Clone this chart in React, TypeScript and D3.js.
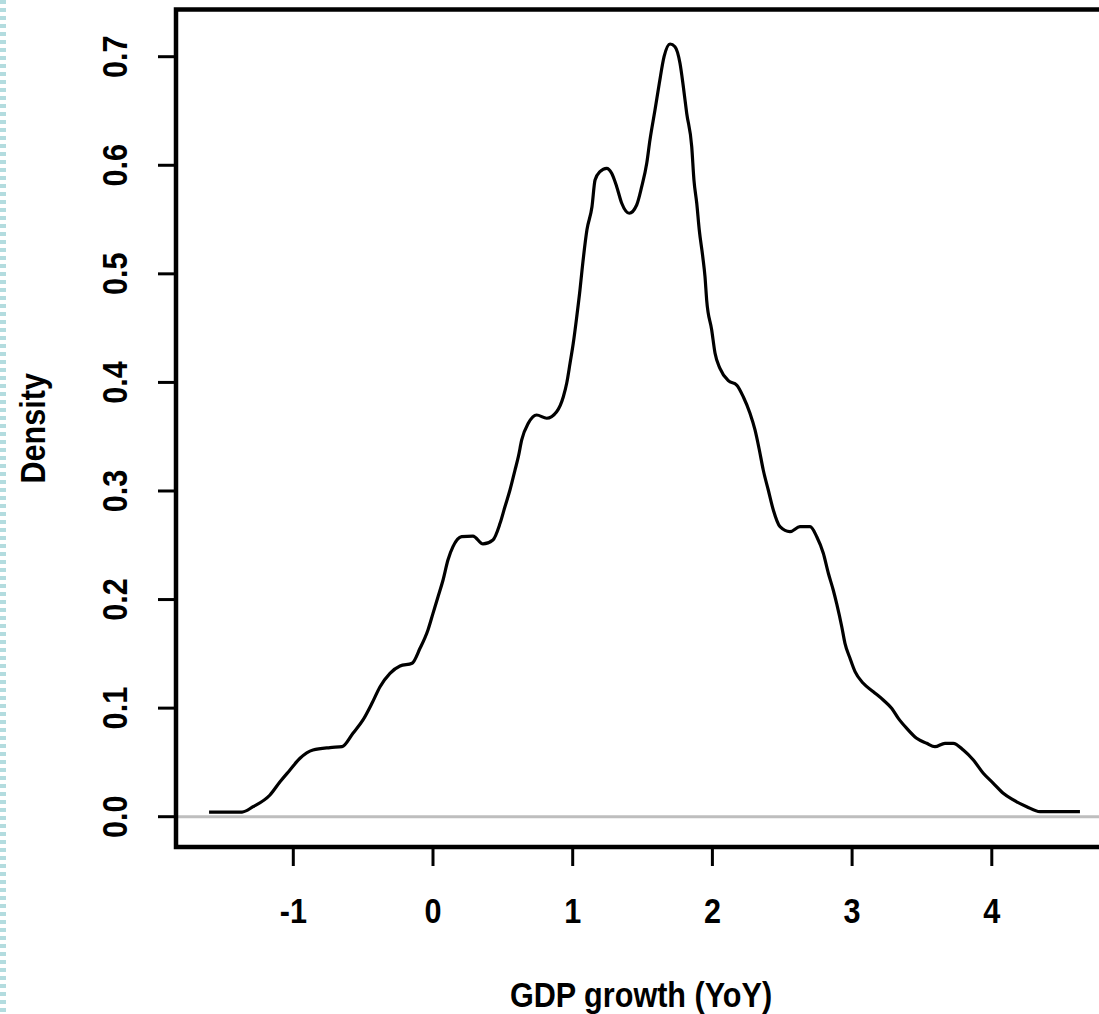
import React from "react";
import * as d3 from "d3";

// GDP growth (YoY) values along the density curve
const gdpGrowth: number[] = [
  -1.603, -1.367, -1.288, -1.167, -1.095, -1.024, -0.952, -0.859, -0.737, -0.651,
  -0.573, -0.501, -0.437, -0.379, -0.308, -0.236, -0.150, -0.093, -0.036, 0.0,
  0.036, 0.072, 0.107, 0.143, 0.205, 0.286, 0.358, 0.429, 0.480, 0.515,
  0.551, 0.587, 0.611, 0.635, 0.682, 0.742, 0.814, 0.885, 0.933, 0.957,
  0.981, 1.004, 1.029, 1.052, 1.067, 1.102, 1.138, 1.160, 1.195, 1.243,
  1.279, 1.315, 1.351, 1.405, 1.458, 1.494, 1.530, 1.553, 1.589, 1.620,
  1.654, 1.697, 1.732, 1.768, 1.792, 1.816, 1.852, 1.868, 1.888, 1.906,
  1.931, 1.947, 1.959, 1.995, 2.019, 2.054, 2.114, 2.174, 2.221, 2.269,
  2.305, 2.336, 2.364, 2.400, 2.436, 2.484, 2.555, 2.627, 2.699, 2.747,
  2.794, 2.830, 2.865, 2.890, 2.926, 2.949, 2.985, 3.021, 3.080, 3.152,
  3.223, 3.283, 3.331, 3.391, 3.462, 3.534, 3.593, 3.665, 3.724, 3.796,
  3.868, 3.939, 4.011, 4.082, 4.154, 4.250, 4.345, 4.631,
];

// Estimated kernel density at each growth value
const density: number[] = [
  0.0043, 0.0043, 0.0092, 0.020, 0.0322, 0.043, 0.0538, 0.0614, 0.0637, 0.0645,
  0.0768, 0.0891, 0.1044, 0.1197, 0.1321, 0.1388, 0.1413, 0.1551, 0.172, 0.1873,
  0.2026, 0.218, 0.2364, 0.2487, 0.2579, 0.2585, 0.2512, 0.2549, 0.2702, 0.2855,
  0.3009, 0.3193, 0.3316, 0.347, 0.3623, 0.37, 0.367, 0.373, 0.3868, 0.3992,
  0.4176, 0.436, 0.4605, 0.4851, 0.5037, 0.5405, 0.5618, 0.5864, 0.5941, 0.5972,
  0.5926, 0.5803, 0.565, 0.5558, 0.5634, 0.5803, 0.6018, 0.6233, 0.6509, 0.6755,
  0.70, 0.7117, 0.7092, 0.6939, 0.6724, 0.6479, 0.6171, 0.5864, 0.565, 0.5404,
  0.5158, 0.4974, 0.4759, 0.4483, 0.4268, 0.413, 0.4016, 0.3976, 0.3868, 0.3716,
  0.3562, 0.3378, 0.3193, 0.3009, 0.2825, 0.2671, 0.2625, 0.2671, 0.2671, 0.2579,
  0.2426, 0.2242, 0.2088, 0.196, 0.175, 0.1597, 0.1459, 0.1336, 0.1229, 0.1151,
  0.1075, 0.0999, 0.0906, 0.0814, 0.0722, 0.0676, 0.0645, 0.0676, 0.0676, 0.0614,
  0.0522, 0.040, 0.0308, 0.0216, 0.0154, 0.0092, 0.0046, 0.0046,
];

const xTicks: number[] = [-1, 0, 1, 2, 3, 4];
const yTicks: number[] = [0.0, 0.1, 0.2, 0.3, 0.4, 0.5, 0.6, 0.7];
const xTitle = "GDP growth (YoY)";
const yTitle = "Density";

const W = 1099;
const H = 1014;
const FONT = "'Liberation Sans', Arial, Helvetica, sans-serif";

export default function App() {
  const x = d3.scaleLinear().domain([0, 1]).range([433, 572.7]);
  const y = d3.scaleLinear().domain([0, 0.7]).range([816.7, 56.7]);

  const boxLeft = 176;
  const boxTop = 9.5;
  const boxBottom = 847;
  const boxRight = 1115;

  const pts = gdpGrowth.map((g, i) => [g, density[i]] as [number, number]);
  const line = d3
    .line<[number, number]>()
    .x((d) => x(d[0]))
    .y((d) => y(d[1]))
    .curve(d3.curveMonotoneX);

  const fmt = d3.format(".1f");
  const textStyle: React.CSSProperties = {
    fontFamily: FONT,
    fontWeight: 700,
    fontSize: 36,
  };

  return (
    <div style={{ position: "fixed", left: 0, top: 0, width: W, height: H, background: "#fff" }}>
      <svg width={W} height={H} viewBox={`0 0 ${W} ${H}`} style={{ display: "block" }}>
        <rect x={0} y={0} width={W} height={H} fill="#ffffff" />
        {/* left dotted border */}
        <line x1={3} y1={0} x2={3} y2={H} stroke="#b3dcdf" strokeWidth={6} strokeDasharray="4 4" />

        {/* zero line */}
        <line x1={boxLeft} x2={boxRight} y1={y(0)} y2={y(0)} stroke="#bebebe" strokeWidth={3} />

        {/* density curve */}
        <path d={line(pts) || ""} fill="none" stroke="#000" strokeWidth={3.2} strokeLinejoin="round" />

        {/* box */}
        <rect
          x={boxLeft}
          y={boxTop}
          width={boxRight - boxLeft}
          height={boxBottom - boxTop}
          fill="none"
          stroke="#000"
          strokeWidth={4.5}
        />

        {/* y ticks */}
        {yTicks.map((t) => (
          <g key={"y" + t}>
            <line x1={158} x2={boxLeft} y1={y(t)} y2={y(t)} stroke="#000" strokeWidth={3} />
            <text
              transform={`translate(127,${y(t)}) rotate(-90) scale(0.85,1)`}
              textAnchor="middle"
              style={textStyle}
              fill="#000"
            >
              {fmt(t)}
            </text>
          </g>
        ))}

        {/* x ticks */}
        {xTicks.map((t) => (
          <g key={"x" + t}>
            <line x1={x(t)} x2={x(t)} y1={boxBottom} y2={866} stroke="#000" strokeWidth={3} />
            <text
              transform={`translate(${x(t)},923) scale(0.85,1)`}
              textAnchor="middle"
              style={textStyle}
              fill="#000"
            >
              {t}
            </text>
          </g>
        ))}

        {/* axis titles */}
        <text
          transform={`translate(641,1007) scale(0.85,1)`}
          textAnchor="middle"
          style={textStyle}
          fill="#000"
        >
          {xTitle}
        </text>
        <text
          transform={`translate(45,${(boxTop + boxBottom) / 2}) rotate(-90) scale(0.85,1)`}
          textAnchor="middle"
          style={textStyle}
          fill="#000"
        >
          {yTitle}
        </text>
      </svg>
    </div>
  );
}
